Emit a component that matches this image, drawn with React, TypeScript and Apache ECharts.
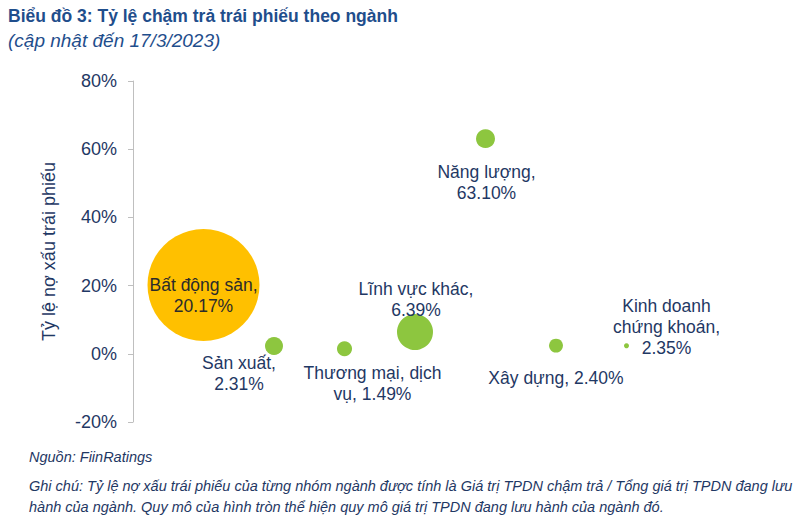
import React, { useEffect, useRef } from "react";
import * as echarts from "echarts";

const sectors = [
  "Bất động sản",
  "Sản xuất",
  "Thương mại, dịch vụ",
  "Lĩnh vực khác",
  "Năng lượng",
  "Xây dựng",
  "Kinh doanh chứng khoán",
];
const labelTexts = [
  "Bất động sản,\n20.17%",
  "Sản xuất,\n2.31%",
  "Thương mại, dịch\nvụ, 1.49%",
  "Lĩnh vực khác,\n6.39%",
  "Năng lượng,\n63.10%",
  "Xây dựng, 2.40%",
  "Kinh doanh\nchứng khoán,\n2.35%",
];
const xPositions = [1, 2, 3, 4, 5, 6, 7];
const defaultRates = [20.17, 2.31, 1.49, 6.39, 63.1, 2.4, 2.35];
// relative outstanding value (bubble size)
const outstanding = [400, 10.3, 7.2, 41.3, 11.5, 6.2, 0.8];
const yTicks = [-20, 0, 20, 40, 60, 80];

const NAVY = "#1F3864";
const TITLE = "#1F4E8C";
const FONT = "Liberation Sans, Arial, sans-serif";

export default function App() {
  const ref = useRef<HTMLDivElement>(null);
  useEffect(() => {
    const chart = echarts.init(ref.current!, null, { renderer: "svg" });
    const labelOffsets: [number, number][] = [
      [0, 10],
      [-35, 28],
      [28, 35],
      [1, -33],
      [1, 44],
      [0, 32],
      [40, -19],
    ];
    const data = sectors.map((name, i) => ({
      name,
      value: [xPositions[i], defaultRates[i], outstanding[i]],
      itemStyle: { color: i === 0 ? "#FFC000" : "#8DC63F", opacity: 1 },
      label: {
        show: true,
        position: "inside",
        offset: labelOffsets[i],
        formatter: labelTexts[i],
        color: i === 0 ? "#2B2B2B" : NAVY,
        fontSize: 17.5,
        lineHeight: 21,
        fontFamily: FONT,
        align: "center",
      },
    }));
    chart.setOption({
      animation: false,
      backgroundColor: "#ffffff",
      grid: { left: 133, top: 81, width: 564, height: 341 },
      xAxis: {
        type: "value",
        min: 0,
        max: 8,
        show: false,
      },
      yAxis: {
        type: "value",
        min: yTicks[0],
        max: yTicks[yTicks.length - 1],
        interval: 20,
        name: "Tỷ lệ nợ xấu trái phiếu",
        nameLocation: "middle",
        nameGap: 75,
        nameTextStyle: {
          color: NAVY,
          fontSize: 18,
          fontFamily: FONT,
        },
        axisLine: { show: true, lineStyle: { color: "#BFBFBF", width: 1 } },
        axisTick: { show: true, length: 5, lineStyle: { color: "#BFBFBF" } },
        splitLine: { show: false },
        axisLabel: {
          formatter: "{value}%",
          color: NAVY,
          fontSize: 18,
          margin: 16,
          fontFamily: FONT,
        },
      },
      series: [
        {
          type: "scatter",
          data,
          symbolSize: (v: number[]) => 112 * Math.sqrt(v[2] / outstanding[0]),
          emphasis: { disabled: true },
        },
      ],
      graphic: [
        {
          type: "text",
          left: 8,
          top: 7,
          style: {
            text: "Biểu đồ 3: Tỷ lệ chậm trả trái phiếu theo ngành",
            fill: TITLE,
            font: "bold 17.5px " + FONT,
          },
        },
        {
          type: "text",
          left: 8,
          top: 31,
          style: {
            text: "(cập nhật đến 17/3/2023)",
            fill: TITLE,
            font: "italic 19px " + FONT,
          },
        },
        {
          type: "text",
          left: 29,
          top: 449,
          style: {
            text: "Nguồn: FiinRatings",
            fill: NAVY,
            font: "italic 14.5px " + FONT,
          },
        },
        {
          type: "text",
          left: 29,
          top: 475,
          style: {
            text:
              "Ghi chú: Tỷ lệ nợ xấu trái phiếu của từng nhóm ngành được tính là Giá trị TPDN chậm trả / Tổng giá trị TPDN đang lưu\nhành của ngành. Quy mô của hình tròn thể hiện quy mô giá trị TPDN đang lưu hành của ngành đó.",
            fill: NAVY,
            font: "italic 14.5px " + FONT,
            lineHeight: 21,
          },
        },
      ],
    });
    return () => chart.dispose();
  }, []);
  return (
    <div
      ref={ref}
      style={{ position: "fixed", left: 0, top: 0, width: 810, height: 528 }}
    />
  );
}
